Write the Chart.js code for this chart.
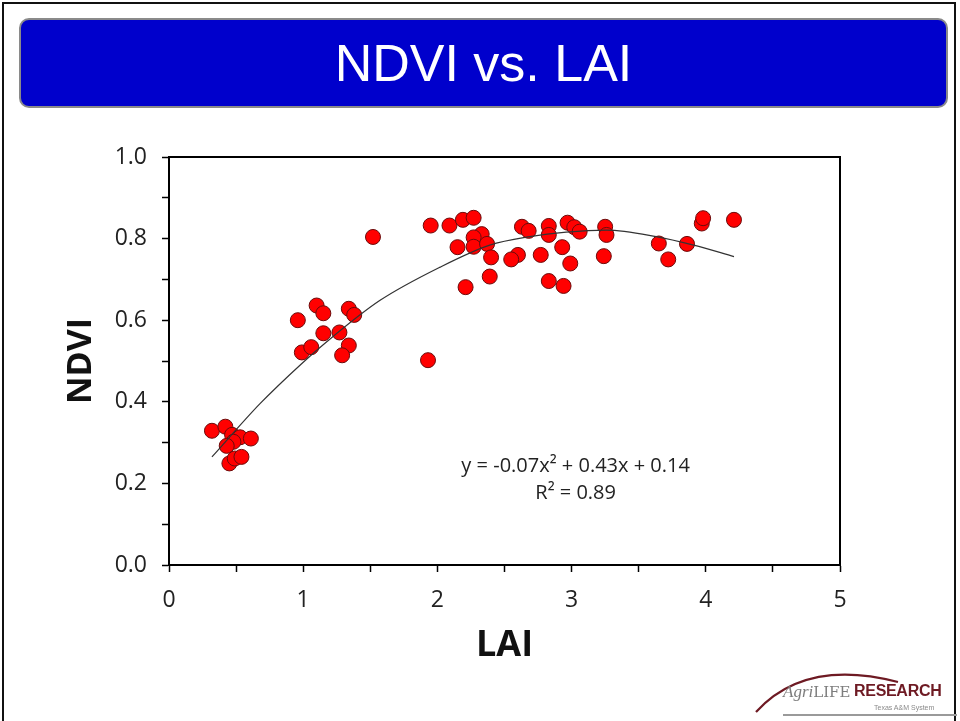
<!DOCTYPE html>
<html>
<head>
<meta charset="utf-8">
<title>NDVI vs. LAI</title>
<script src="https://cdn.jsdelivr.net/npm/chart.js@4.4.1/dist/chart.umd.min.js"></script>
<style>
  html, body { margin: 0; padding: 0; background: #fff; }
  body { width: 960px; height: 721px; position: relative; overflow: hidden; font-family: "Open Sans", sans-serif; }
  .frame { position: absolute; left: 2px; top: 2px; width: 954px; height: 730px; border: 2px solid #111; box-sizing: border-box; }
  .banner {
    position: absolute; left: 19px; top: 18px; width: 929px; height: 90px;
    background: #0000cc; border: 2px solid #8a8a8a; border-radius: 10px; box-sizing: border-box;
    color: #fff; font-family: "Liberation Sans", Arial, sans-serif; font-size: 52px;
    text-align: center; line-height: 86px;
  }
  #chart { position: absolute; left: 0; top: 0; }
  .logo { position: absolute; left: 750px; top: 660px; width: 200px; height: 60px; }
  .logo .agri { position: absolute; left: 33px; top: 22px; font-family: "DejaVu Serif", "Liberation Serif", serif; font-size: 15px; color: #7d7d7d; }
  .logo .agri i { font-family: "Liberation Serif", serif; font-size: 17px; }
  .logo .res { position: absolute; left: 104px; top: 22px; font-family: "Liberation Sans", Arial, sans-serif; font-weight: bold; font-size: 16px; letter-spacing: -0.3px; color: #6e1a23; }
  .logo .sys { position: absolute; left: 124px; top: 44px; font-family: "Liberation Sans", Arial, sans-serif; font-size: 7px; color: #8a8a8a; }
  .logo svg { position: absolute; left: 0; top: 0; }
  .baseline { position: absolute; left: 783px; top: 714px; width: 174px; height: 2px; background: #9a9a9a; }
</style>
</head>
<body>
<div class="frame"></div>
<div class="banner">NDVI vs. LAI</div>
<canvas id="chart" width="960" height="721"></canvas>
<div class="logo">
  <svg width="200" height="60"><path d="M6 52 Q 55 -2 148 22" fill="none" stroke="#6e1a23" stroke-width="2.2"/></svg>
  <span class="agri"><i>Agri</i>LIFE</span>
  <span class="res">RESEARCH</span>
  <span class="sys">Texas A&amp;M System</span>
</div>
<div class="baseline"></div>
<script>
// measured LAI / NDVI pairs
const laiValues = [
  0.32, 0.42, 0.47, 0.53, 0.61, 0.48, 0.43, 0.45, 0.49, 0.54,
  0.96, 1.10, 1.15, 1.34, 1.38, 1.15, 1.27, 0.99, 1.06, 1.34, 1.29,
  1.52, 1.93,
  1.95, 2.09, 2.19, 2.27, 2.33, 2.27, 2.27, 2.37, 2.15, 2.40, 2.39, 2.21,
  2.60, 2.55, 2.63, 2.68, 2.83, 2.83, 2.77, 2.93, 2.99, 2.83, 2.94,
  2.97, 3.02, 3.06, 3.25, 3.26, 3.24,
  3.65, 3.72, 3.86, 3.97, 3.98, 4.21
];
const ndviValues = [
  0.329, 0.339, 0.319, 0.313, 0.310, 0.302, 0.292, 0.249, 0.261, 0.265,
  0.600, 0.636, 0.617, 0.628, 0.613, 0.568, 0.570, 0.521, 0.534, 0.538, 0.514,
  0.804, 0.502,
  0.832, 0.832, 0.846, 0.851, 0.811, 0.803, 0.780, 0.787, 0.779, 0.754, 0.707, 0.681,
  0.760, 0.749, 0.829, 0.819, 0.831, 0.809, 0.760, 0.779, 0.739, 0.696, 0.684,
  0.839, 0.828, 0.817, 0.829, 0.809, 0.757,
  0.788, 0.749, 0.787, 0.837, 0.850, 0.846
];

// polynomial trendline
const trendLai  = [0.32, 0.68, 0.99, 1.16, 1.57, 2.02, 2.39, 2.69, 2.96, 3.26, 3.63, 3.91, 4.21];
const trendNdvi = [0.265, 0.396, 0.494, 0.543, 0.648, 0.730, 0.784, 0.805, 0.816, 0.821, 0.805, 0.784, 0.756];

const xTickLabels = ['0', '1', '2', '3', '4', '5'];
const yTickLabels = ['0.0', '0.2', '0.4', '0.6', '0.8', '1.0'];
const equationLines = ['y = -0.07x\u00B2 + 0.43x + 0.14', 'R\u00B2 = 0.89'];

const points = laiValues.map((x, i) => ({ x, y: ndviValues[i] }));
const trend = trendLai.map((x, i) => ({ x, y: trendNdvi[i] }));

const tickFont = { family: '"Open Sans", sans-serif', size: 23 };
const titleFont = { family: '"Open Sans", sans-serif', weight: 'bold' };

// box round the plot area + fit equation
const plotExtras = {
  id: 'plotExtras',
  afterDraw(chart) {
    const { ctx, chartArea: a, scales } = chart;
    ctx.save();
    ctx.strokeStyle = '#000';
    ctx.lineWidth = 2;
    ctx.strokeRect(a.left, a.top, a.right - a.left, a.bottom - a.top);
    ctx.fillStyle = '#222';
    ctx.font = '20px "Open Sans", sans-serif';
    ctx.textAlign = 'center';
    ctx.textBaseline = 'middle';
    const cx = scales.x.getPixelForValue(3.03);
    ctx.fillText(equationLines[0], cx, scales.y.getPixelForValue(0.241));
    ctx.fillText(equationLines[1], cx, scales.y.getPixelForValue(0.176));
    ctx.restore();
  }
};

new Chart(document.getElementById('chart'), {
  type: 'scatter',
  data: {
    datasets: [
      {
        type: 'line',
        label: 'Poly. fit',
        data: trend,
        borderColor: '#333',
        borderWidth: 1.2,
        pointRadius: 0,
        fill: false,
        cubicInterpolationMode: 'monotone',
      },
      {
        label: 'NDVI',
        data: points,
        backgroundColor: '#ff0000',
        borderColor: '#6a0b0b',
        borderWidth: 1,
        pointRadius: 7.5,
      },
    ],
  },
  options: {
    responsive: false,
    animation: false,
    devicePixelRatio: 1,
    layout: { padding: { top: 157, right: 120, left: 0, bottom: 0 } },
    plugins: { legend: { display: false }, tooltip: { enabled: false } },
    scales: {
      x: {
        type: 'linear', min: 0, max: 5,
        afterFit: s => { s.height = 156; },
        ticks: {
          stepSize: 0.5, autoSkip: false, maxRotation: 0,
          color: '#222', font: tickFont, padding: 15,
          callback: v => (Number.isInteger(v) ? xTickLabels[v] : ''),
        },
        grid: { drawOnChartArea: false, tickLength: 7, tickColor: '#000', tickWidth: 1.5 },
        border: { color: '#000', width: 2 },
        title: { display: true, text: 'LAI', color: '#111', font: { ...titleFont, size: 36 }, padding: { bottom: 54 } },
      },
      y: {
        min: 0, max: 1,
        afterFit: s => { s.width = 169; },
        ticks: {
          stepSize: 0.1, autoSkip: false,
          color: '#222', font: tickFont, padding: 15,
          callback: v => {
            const k = Math.round(v * 10);
            return k % 2 === 0 ? yTickLabels[k / 2] : '';
          },
        },
        grid: { drawOnChartArea: false, tickLength: 7, tickColor: '#000', tickWidth: 1.5 },
        border: { color: '#000', width: 2 },
        title: { display: true, text: 'NDVI', color: '#111', font: { ...titleFont, size: 34 }, padding: { top: 61 } },
      },
    },
  },
  plugins: [plotExtras],
});
</script>
</body>
</html>
